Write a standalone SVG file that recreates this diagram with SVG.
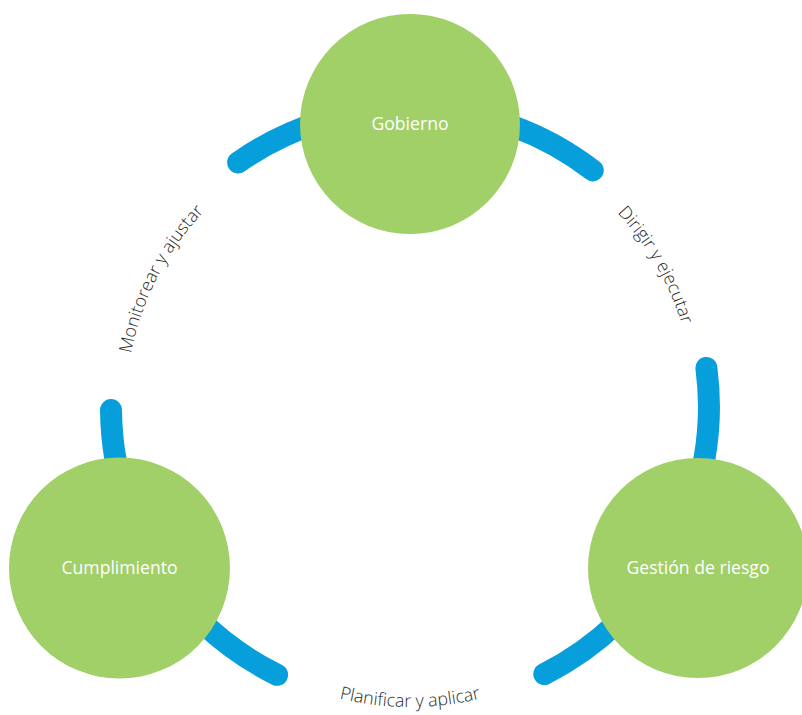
<svg xmlns="http://www.w3.org/2000/svg" xmlns:xlink="http://www.w3.org/1999/xlink" width="802" height="715" viewBox="0 0 802 715">
  <style>
    .ring { fill: none; stroke: #069FDC; stroke-width: 22; stroke-linecap: round; }
    .node { fill: #A1CF68; }
    .nlabel { font-family: "Open Sans", "Noto Sans", "Liberation Sans", sans-serif; font-size: 17.6px; fill: #FFFFFF; text-anchor: middle; }
    .elabel { font-family: "Open Sans", "Noto Sans", "Liberation Sans", sans-serif; font-size: 17.8px; font-weight: 300; fill: #2B2B2B; text-anchor: middle; }
  </style>
  <defs>
    <path id="tp-left" d="M139.6,493.8 A284,284 0 0 1 323.2,136.6"/>
    <path id="tp-right" d="M483.5,132.7 A284,284 0 0 1 684.3,480.5"/>
    <path id="tp-bottom" d="M197.9,619.1 A300,300 0 0 0 622.1,619.1"/>
  </defs>
  <rect width="802" height="715" fill="#FFFFFF"/>
  <g id="connectors">
    <path class="ring" d="M238.1,162.4 A299,299 0 0 1 592.8,170.4"/>
    <path class="ring" d="M706.4,368 A299,299 0 0 1 544.3,674.1"/>
    <path class="ring" d="M277.1,674.8 A299,299 0 0 1 111,410.1"/>
    <text class="elabel"><textPath xlink:href="#tp-left" href="#tp-left" startOffset="50%">Monitorear y ajustar</textPath></text>
    <text class="elabel"><textPath xlink:href="#tp-right" href="#tp-right" startOffset="50%">Dirigir y ejecutar</textPath></text>
    <text class="elabel"><textPath xlink:href="#tp-bottom" href="#tp-bottom" startOffset="50%">Planificar y aplicar</textPath></text>
  </g>
  <g id="gobierno">
    <circle class="node" cx="410" cy="124" r="110"/>
    <text class="nlabel" x="410" y="129.5">Gobierno</text>
  </g>
  <g id="cumplimiento">
    <circle class="node" cx="119.5" cy="568" r="110.5"/>
    <text class="nlabel" x="119.5" y="573.5">Cumplimiento</text>
  </g>
  <g id="gestion">
    <circle class="node" cx="698" cy="568" r="110"/>
    <text class="nlabel" x="698" y="573.5">Gestión de riesgo</text>
  </g>
</svg>
